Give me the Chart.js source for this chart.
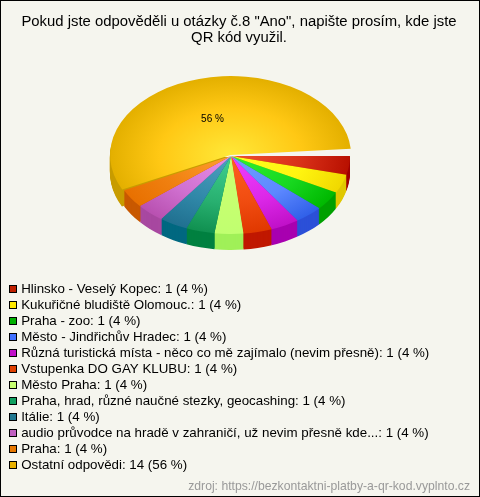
<!DOCTYPE html>
<html><head><meta charset="utf-8">
<style>html,body{margin:0;padding:0;background:#f5f5ee}#w{width:480px;height:497px}canvas{display:block}</style>
<script src="https://cdn.jsdelivr.net/npm/chart.js@4"></script></head>
<body><div id="w"><canvas id="c" width="480" height="497"></canvas></div>
<script>
const categories=["Hlinsko - Veselý Kopec","Kukuřičné bludiště Olomouc.","Praha - zoo","Město - Jindřichův Hradec","Různá turistická místa - něco co mě zajímalo (nevim přesně)","Vstupenka DO GAY KLUBU","Město Praha","Praha, hrad, různé naučné stezky, geocashing","Itálie","audio průvodce na hradě v zahraničí, už nevim přesně kde...","Praha","Ostatní odpovědi"];
const values=[1,1,1,1,1,1,1,1,1,1,1,14];
const titleLines=['Pokud jste odpověděli u otázky č.8 "Ano", napište prosím, kde jste','QR kód využil.'];
const sourceText="zdroj: https://bezkontaktni-platby-a-qr-kod.vyplnto.cz";
const legendColors=["#c02000","#ffe800","#00b000","#4070ff","#c010c8","#e04000","#c8ff70","#10a060","#207890","#c060c0","#e87800","#e8b000"];
const innerColors=["#f05030","#ffff20","#30f030","#70a0ff","#f040ff","#ff6020","#ccff70","#40d090","#50a0c0","#e890e8","#ffa030","#ffe838"];
const midColors=["#d83018","#fff510","#18d820","#5c88ff","#dc28e8","#f04c10","#c6ff70","#28b070","#3088a8","#d070d0","#f08010","#ffc814"];
const outerColors=["#b81000","#f0d800","#00b800","#3060e8","#c010c8","#e03800","#c0ff70","#109050","#207090","#b850b0","#e87000","#e4b000"];
const sideColors=["#a00000","#e0c800","#00a000","#2c50d8","#a800b0","#c01800","#a0f058","#008040","#006880","#a848a0","#c85800","#c89c00"];
const SY=0.655,DEPTH=16,PX=231,PY=156,R=119;
const total=values.reduce((s,v)=>s+v,0);
const pct=v=>Math.round(v/total*100);
const D=Math.PI/180;
function swatch(col){
 const s=document.createElement('canvas');s.width=8;s.height=8;
 const x=s.getContext('2d');x.fillStyle=col;x.fillRect(0,0,8,8);x.strokeStyle='#000';x.lineWidth=1;x.strokeRect(.5,.5,7,7);
 return s;
}
const swatches=legendColors.map(swatch);

const pie3d={id:'pie3d',
 afterDatasetsUpdate(chart){
  // the small slices are drawn on whole-degree steps, which leaves the notch beside the largest slice
  const els=chart.getDatasetMeta(0).data;let a=0;
  els.forEach((el,i)=>{
   const deg=values[i]/total*360;const step=i===11?deg:Math.floor(deg);
   el.startAngle=a*D;el.endAngle=(a+step)*D;el.circumference=step*D;a+=step;
  });
 },
 beforeDraw(chart){
  const c=chart.ctx;c.save();c.fillStyle='#f5f5ee';c.fillRect(0,0,480,497);
  c.strokeStyle='#000';c.lineWidth=1;c.strokeRect(.5,.5,479,496);c.restore();
  const L=chart.legend;L.left=8.83;L.top=279.665;L.right=480;L.bottom=497;L.adjustHitBoxes();
 },
 beforeDatasetsDraw(chart){
  const c=chart.ctx,m=chart.getDatasetMeta(0),a=chart.chartArea;
  const cx=(a.left+a.right)/2,cy=(a.top+a.bottom)/2;
  c.save();c.translate(PX,PY);c.scale(1,SY);c.translate(-cx,-cy);
  for(let k=DEPTH;k>=1;k--){
   c.save();c.translate(0,k/SY);
   m.data.forEach((el,i)=>{
    const o=el.options,bg=o.backgroundColor,sa=el.endAngle,sc=el.circumference;
    if(i===11){el.endAngle=el.startAngle+0.6;el.circumference=0.6;}
    o.backgroundColor=sideColors[i];el.draw(c);
    o.backgroundColor=bg;el.endAngle=sa;el.circumference=sc;
   });
   c.restore();
  }
 },
 afterDatasetsDraw(chart){
  const c=chart.ctx;
  c.restore();
  c.save();c.font='10px "Liberation Sans"';c.fillStyle='#000';c.textAlign='center';c.textBaseline='middle';
  c.fillText(pct(values[11])+' %',212.5,119);c.restore();
 }};

new Chart(document.getElementById('c'),{
 type:'pie',
 plugins:[pie3d],
 data:{labels:categories,datasets:[{data:values,borderWidth:0,clip:false,
  offset:ctx=>ctx.dataIndex===11?6:0,
  backgroundColor(ctx){
   const a=ctx.chart.chartArea;if(!a)return legendColors[ctx.dataIndex];
   const x=(a.left+a.right)/2,y=(a.top+a.bottom)/2;
   const g=ctx.chart.ctx.createRadialGradient(x,y,0,x,y,R);
   g.addColorStop(0,innerColors[ctx.dataIndex]);g.addColorStop(.6,midColors[ctx.dataIndex]);g.addColorStop(1,outerColors[ctx.dataIndex]);
   return g;
  }}]},
 options:{responsive:false,animation:false,rotation:90,radius:R,
  layout:{padding:{left:8,right:10,top:0,bottom:0}},
  plugins:{
   tooltip:{enabled:false},
   title:{display:true,text:titleLines,color:'#000',align:'center',padding:{top:14,bottom:180},font:{family:'"Liberation Sans"',size:14.87,weight:'normal',lineHeight:16/14.87}},
   subtitle:{display:true,position:'bottom',align:'end',text:sourceText,color:'#999',padding:{top:4,bottom:3},font:{family:'"Liberation Sans"',size:12.2,weight:'normal'}},
   legend:{position:'chartArea',align:'start',
    labels:{usePointStyle:true,boxWidth:3,boxHeight:10,padding:2.67,color:'#000',font:{family:'"Liberation Sans"',size:13.33,lineHeight:14/13.33},
     generateLabels(chart){return categories.map((n,i)=>({text:n+': '+values[i]+' ('+pct(values[i])+' %)',fillStyle:legendColors[i],strokeStyle:'#000',lineWidth:1,pointStyle:swatches[i],index:i}));}
    }}
  }}
});
</script></body></html>
